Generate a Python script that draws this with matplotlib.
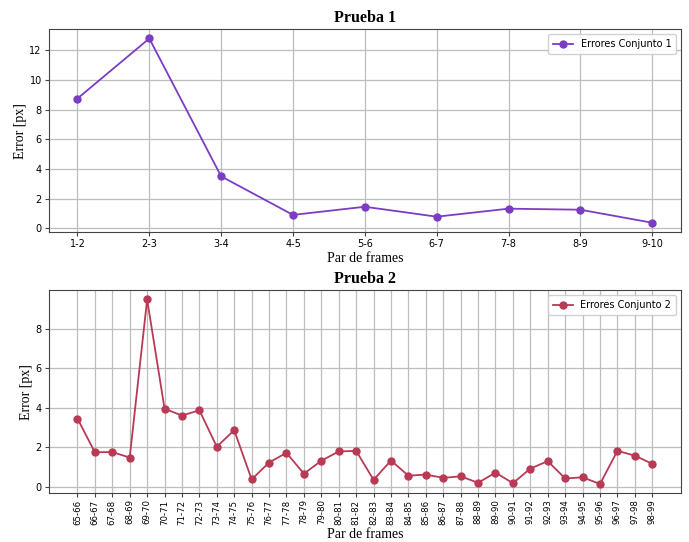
import numpy as np
import matplotlib
matplotlib.use('Agg')
import matplotlib.pyplot as plt

# Errores por par de frames, prueba 1
pares_1 = ['1-2', '2-3', '3-4', '4-5', '5-6', '6-7', '7-8', '8-9', '9-10']
errores_1 = [8.75, 12.8, 3.5, 0.9, 1.45, 0.78, 1.32, 1.25, 0.37]

# Errores por par de frames, prueba 2 (frames 65 a 99)
pares_2 = ['65-66', '66-67', '67-68', '68-69', '69-70', '70-71', '71-72',
           '72-73', '73-74', '74-75', '75-76', '76-77', '77-78', '78-79',
           '79-80', '80-81', '81-82', '82-83', '83-84', '84-85', '85-86',
           '86-87', '87-88', '88-89', '89-90', '90-91', '91-92', '92-93',
           '93-94', '94-95', '95-96', '96-97', '97-98', '98-99']
errores_2 = [3.46, 1.75, 1.76, 1.48, 9.5, 3.96, 3.61, 3.88, 2.03, 2.87,
             0.37, 1.23, 1.72, 0.66, 1.32, 1.79, 1.82, 0.35, 1.33, 0.56,
             0.62, 0.45, 0.53, 0.2, 0.72, 0.18, 0.92, 1.3, 0.42, 0.48,
             0.14, 1.82, 1.58, 1.16]

color_1 = '#7b3dc4'
color_2 = '#b83a55'

plt.rcParams['font.family'] = 'DejaVu Sans'
plt.rcParams['xtick.labelsize'] = 7
plt.rcParams['ytick.labelsize'] = 7
plt.rcParams['legend.fontsize'] = 7
plt.rcParams['axes.edgecolor'] = '#444444'

serif = {'family': 'Liberation Serif'}

fig = plt.figure(figsize=(6.89, 5.42), dpi=100)
ax1 = fig.add_axes([0.0707, 0.572, 0.9177, 0.374])
ax2 = fig.add_axes([0.0707, 0.090, 0.9177, 0.3745])


def dibujar(ax, pares, errores, color, etiqueta, titulo, rot):
    x = np.arange(len(pares))
    ax.plot(x, errores, '-o', color=color, lw=1.3, ms=5, label=etiqueta)
    ax.set_xticks(x)
    ax.set_xticklabels(pares, rotation=rot)
    ax.grid(True, color='#bdbdbd', lw=0.9)
    ax.set_axisbelow(True)
    ax.set_title(titulo, fontdict=serif, fontsize=11.5, fontweight='bold', pad=5)
    ax.set_xlabel('Par de frames', fontdict=serif, fontsize=10, labelpad=2)
    ax.set_ylabel('Error [px]', fontdict=serif, fontsize=10, labelpad=2)
    ax.tick_params(length=3, width=0.8, color='#444444', pad=2)
    ax.legend(loc='upper right', fancybox=True, framealpha=0.9,
              borderpad=0.5)


dibujar(ax1, pares_1, errores_1, color_1, 'Errores Conjunto 1', 'Prueba 1', 0)
dibujar(ax2, pares_2, errores_2, color_2, 'Errores Conjunto 2', 'Prueba 2', 90)
ax1.set_yticks([0, 2, 4, 6, 8, 10, 12])
ax2.set_yticks([0, 2, 4, 6, 8])
ax2.tick_params(axis='x', labelsize=6.2, pad=1.5)
ax2.xaxis.set_label_coords(0.5, -0.172)

fig.savefig('out.png', dpi=100)
